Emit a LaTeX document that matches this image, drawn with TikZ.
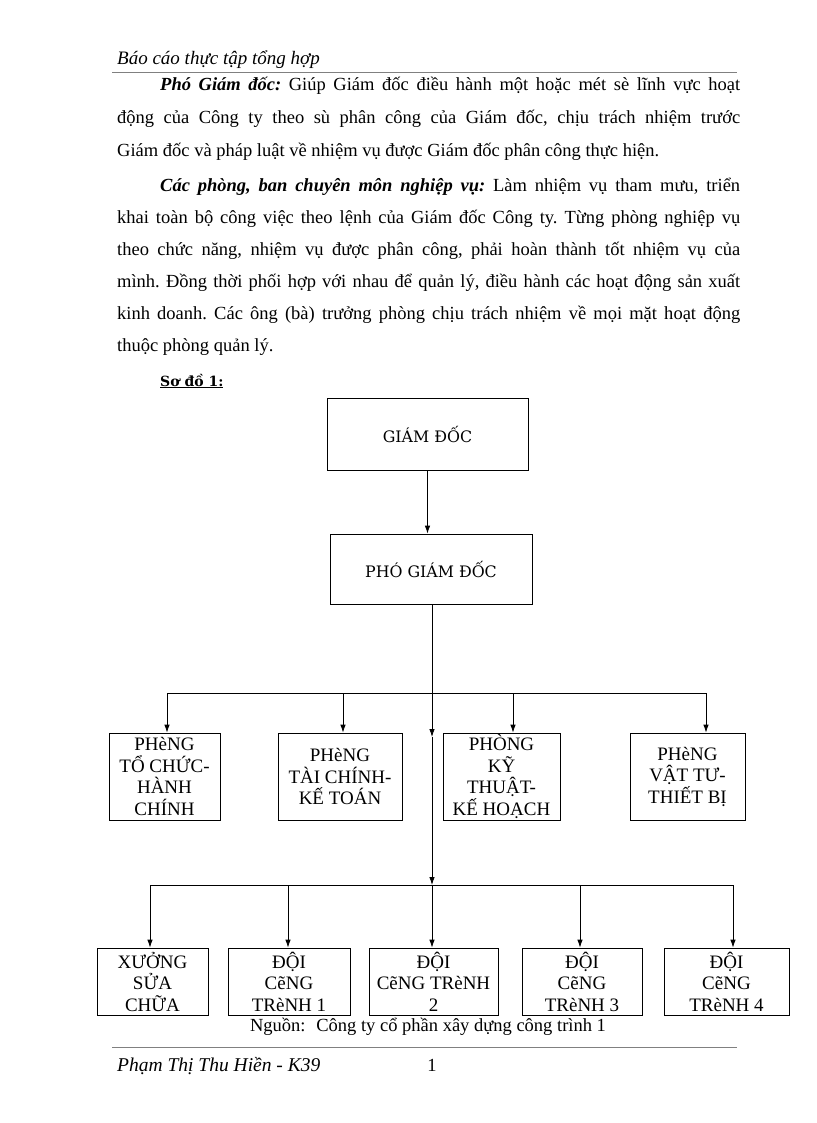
\documentclass[tikz,border=0pt]{standalone}
\usepackage{fontspec}
\setmainfont{Liberation Serif}
\newfontfamily\hopfont{DejaVu Serif}
\usetikzlibrary{arrows.meta}

\begin{document}
\begin{tikzpicture}[x=1pt,y=-1pt,
  hop/.style={draw,line width=0.8pt,inner sep=0pt,align=center,font=\fontsize{19}{21.5}\selectfont},
  tip/.style={-{Latex[length=8pt,width=5.5pt]}},
  lin/.style={line width=0.8pt}]
\useasboundingbox (0,0) rectangle (816,1123);

%intestazione
\node[anchor=base west,inner sep=0,font=\fontsize{19}{19}\selectfont\itshape] (head) at (117,65) {Báo cáo thực tập tổng hợp};
\coordinate (hl) at (112,72);
\coordinate (hr) at (737,72);
\draw[gray,line width=0.8pt] (hl) -- (hr);

%testo
\node[anchor=base west,inner sep=0] (par1) at (117,91) {\parbox[t]{623pt}{\fontsize{18.5}{33}\selectfont\frenchspacing
\spaceskip=0.25em plus 0.6em minus 0.12em
\hspace*{43pt}\textbf{\textit{Phó Giám đốc:}} Giúp Giám đốc điều hành một hoặc mét sè lĩnh vực hoạt\linebreak
động của Công ty theo sù phân công của Giám đốc, chịu trách nhiệm trước\linebreak
Giám đốc và pháp luật về nhiệm vụ được Giám đốc phân công thực hiện.}};

\node[anchor=base west,inner sep=0] (par2) at (117,192) {\parbox[t]{623pt}{\fontsize{18.5}{32}\selectfont\frenchspacing
\spaceskip=0.25em plus 0.6em minus 0.12em
\hspace*{43pt}\textbf{\textit{Các phòng, ban chuyên môn nghiệp vụ:}} Làm nhiệm vụ tham mưu, triển\linebreak
khai toàn bộ công việc theo lệnh của Giám đốc Công ty. Từng phòng nghiệp vụ\linebreak
theo chức năng, nhiệm vụ được phân công, phải hoàn thành tốt nhiệm vụ của\linebreak
mình. Đồng thời phối hợp với nhau để quản lý, điều hành các hoạt động sản xuất\linebreak
kinh doanh. Các ông (bà) trưởng phòng chịu trách nhiệm về mọi mặt hoạt động\linebreak
thuộc phòng quản lý.}};

\node[anchor=base west,inner sep=0,font=\hopfont\fontsize{14}{14}\selectfont\bfseries] (sodo) at (160,386) {\underline{Sơ đồ 1:}};

%sơ đồ
\node[hop,minimum width=201pt,minimum height=72pt,font=\hopfont\fontsize{15.8}{18}\selectfont] (gd) at (427.5,434) {GIÁM ĐỐC};
\node[hop,minimum width=202pt,minimum height=70pt,font=\hopfont\fontsize{15.8}{18}\selectfont] (pgd) at (431,569) {PHÓ GIÁM ĐỐC};
\draw[lin,tip] (gd.south) -- (gd.south |- pgd.north);

\node[hop,minimum width=111pt,minimum height=87pt] (p1) at (164.5,776.5) {PHèNG\\TỔ CHỨC-\\HÀNH\\CHÍNH};
\node[hop,minimum width=124pt,minimum height=87pt] (p2) at (340,776.5) {PHèNG\\TÀI CHÍNH-\\KẾ TOÁN};
\node[hop,minimum width=117pt,minimum height=87pt] (p3) at (501.5,776.5) {PHÒNG\\KỸ\\THUẬT-\\KẾ HOẠCH};
\node[hop,minimum width=115pt,minimum height=87pt] (p4) at (687.5,776.5) {PHèNG\\VẬT TƯ-\\THIẾT BỊ};

\node[hop,minimum width=111pt,minimum height=67pt] (d1) at (152.5,981.5) {XƯỞNG\\SỬA\\CHỮA};
\node[hop,minimum width=122pt,minimum height=67pt] (d2) at (289,981.5) {ĐỘI\\CẽNG\\TRèNH 1};
\node[hop,minimum width=129pt,minimum height=67pt] (d3) at (433.5,981.5) {ĐỘI\\CẽNG TRèNH\\2};
\node[hop,minimum width=120pt,minimum height=67pt] (d4) at (582,981.5) {ĐỘI\\CẽNG\\TRèNH 3};
\node[hop,minimum width=125pt,minimum height=67pt] (d5) at (726.5,981.5) {ĐỘI\\CẽNG\\TRèNH 4};

%tronco
\coordinate (t1) at (432,693);
\coordinate (t2) at (432,737);
\coordinate (t3) at (432,885);
\draw[lin] (t1 |- pgd.south) -- (t1);
\draw[lin,tip] (t1) -- (t2);
\draw[lin,tip] (t2) -- (t3);

%rami
\coordinate (b1) at (167,693);
\coordinate (b2) at (343,693);
\coordinate (b3) at (513,693);
\coordinate (b4) at (706,693);
\draw[lin] (b1) -- (b4);
\foreach \b/\p in {b1/p1,b2/p2,b3/p3,b4/p4}
  \draw[lin,tip] (\b) -- (\b |- \p.north);

\coordinate (c1) at (150,885);
\coordinate (c2) at (288,885);
\coordinate (c3) at (432,885);
\coordinate (c4) at (580,885);
\coordinate (c5) at (733,885);
\draw[lin] (c1) -- (c5);
\foreach \c/\d in {c1/d1,c2/d2,c3/d3,c4/d4,c5/d5}
  \draw[lin,tip] (\c) -- (\c |- \d.north);

\node[inner sep=0,font=\fontsize{18.5}{18.5}\selectfont] (nguon) at (428,1027) {Nguồn:~ Công ty cổ phần xây dựng công trình 1};

%piè di pagina
\coordinate (fl) at (112,1047);
\coordinate (fr) at (737,1047);
\draw[gray,line width=0.8pt] (fl) -- (fr);
\node[anchor=base west,inner sep=0,font=\fontsize{19.5}{19.5}\selectfont\itshape] (foot) at (117,1071) {Phạm Thị Thu Hiền - K39};
\node[anchor=base,inner sep=0,font=\fontsize{18.5}{18.5}\selectfont] (pag) at (432,1071) {1};

\end{tikzpicture}
\end{document}
